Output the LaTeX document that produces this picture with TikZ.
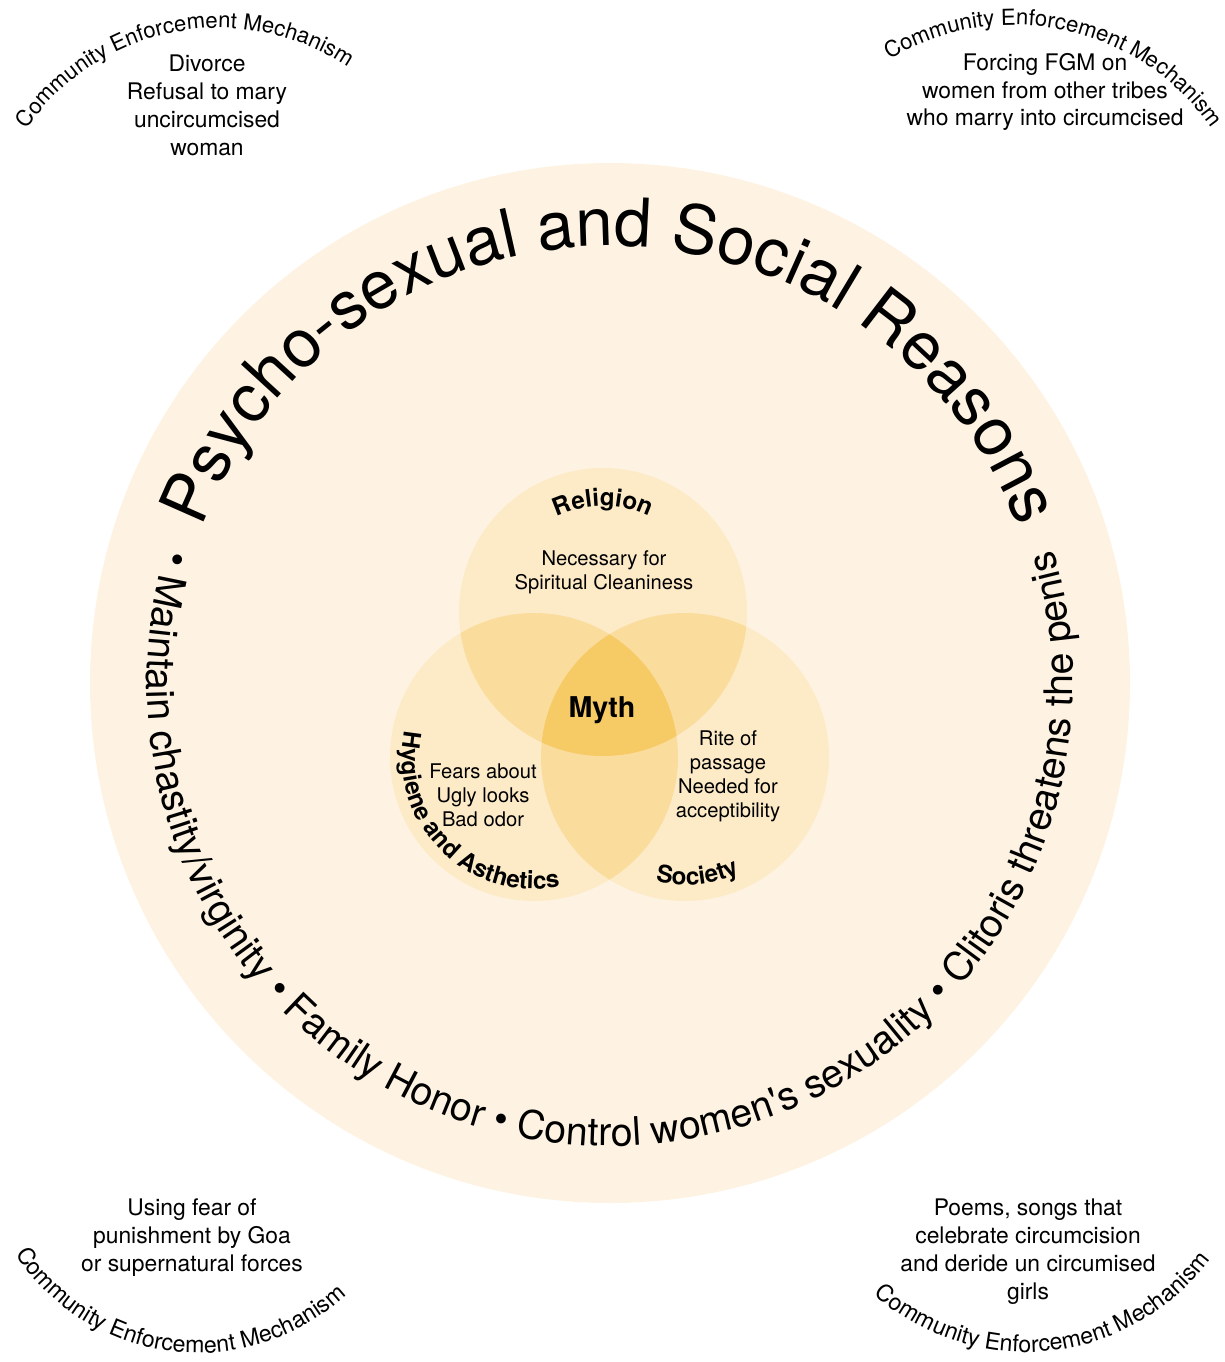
\documentclass[tikz,border=0pt]{standalone}
\usepackage{fontspec}
\setmainfont{TeX Gyre Heros}[Ligatures=TeXOff]
\usetikzlibrary{decorations.text}

\definecolor{creambg}{HTML}{FEF3E2}
\definecolor{vennone}{HTML}{FDEBC8}
\definecolor{venntwo}{HTML}{FADC9C}
\definecolor{vennthree}{HTML}{F6CA64}

\newcommand{\psytitlefont}{\fontsize{38.3}{46}\selectfont}
\newcommand{\psyringfont}{\fontsize{22.4}{26}\selectfont}
\newcommand{\psymechfont}{\fontsize{12.6}{15}\selectfont}
\newcommand{\psymechlowfont}{\fontsize{13.2}{15}\selectfont}
\newcommand{\psylabelfont}{\bfseries\fontsize{13.8}{16}\selectfont}

\begin{document}
\begin{tikzpicture}[x=0.02cm, y=0.02cm,
    venntext/.style={align=center, inner sep=0pt, font=\fontsize{11.5}{13.6}\selectfont},
    cornertext/.style={align=center, inner sep=0pt, font=\fontsize{13}{15.9}\selectfont},
    arctext/.style={decorate, decoration={text along path, text align=center, text={#1}}}]
    \useasboundingbox (0,0) rectangle (1224,-1362);
    % Centres:
    \coordinate (bigc) at (610,-683);
    \coordinate (rel) at (603,-612);
    \coordinate (hyg) at (534,-757);
    \coordinate (soc) at (685,-757);

    % Outer ring and the three circles:
    \fill[creambg] (bigc) circle[radius=520];
    \fill[vennone] (rel) circle[radius=144];
    \fill[vennone] (hyg) circle[radius=144];
    \fill[vennone] (soc) circle[radius=144];
    \begin{scope}
        \clip (rel) circle[radius=144];
        \fill[venntwo] (hyg) circle[radius=144];
        \fill[venntwo] (soc) circle[radius=144];
    \end{scope}
    \begin{scope}
        \clip (hyg) circle[radius=144];
        \fill[venntwo] (soc) circle[radius=144];
    \end{scope}
    \begin{scope}
        \clip (rel) circle[radius=144];
        \clip (hyg) circle[radius=144];
        \fill[vennthree] (soc) circle[radius=144];
    \end{scope}

    % Ring texts:
    \path[arctext={|\psytitlefont|Psycho-sexual and Social Reasons}]
        (bigc) ++(180:437) arc[start angle=180, end angle=0, radius=437];
    \path[arctext={|\psyringfont|• Maintain chastity/virginity • Family Honor • Control women's sexuality • Clitoris threatens the penis}]
        (bigc) ++(150:463) arc[start angle=150, end angle=390, radius=463];

    % Circle labels:
    \path[arctext={|\psylabelfont|Religion}]
        (rel) ++(150:106) arc[start angle=150, end angle=30, radius=106];
    \path[arctext={|\psylabelfont|Hygiene and Asthetics}]
        (hyg) ++(150:132) arc[start angle=150, end angle=300, radius=132];
    \path[arctext={|\psylabelfont|Society}]
        (soc) ++(216:128) arc[start angle=216, end angle=336, radius=128];

    \node[venntext] (relnote) at (604,-572) {Necessary for\\Spiritual Cleaniness};
    \node[venntext] (hygnote) at (483,-795) {Fears about\\Ugly looks\\Bad odor};
    \node[venntext] (socnote) at (728,-776) {Rite of\\passage\\Needed for\\acceptibility};
    \node[font=\bfseries\fontsize{16.3}{19}\selectfont, inner sep=0pt] (myth) at (602,-710) {Myth};

    % Corners:
    \path[arctext={|\psymechfont|Community Enforcement Mechanism}]
        (219,-261) ++(171:233) arc[start angle=171, end angle=31, radius=233];
    \path[arctext={|\psymechfont|Community Enforcement Mechanism}]
        (1014,-266) ++(148:241) arc[start angle=148, end angle=8, radius=241];
    \path[arctext={|\psymechlowfont|Community Enforcement Mechanism}]
        (198,-1135) ++(193:218) arc[start angle=193, end angle=333, radius=218];
    \path[arctext={|\psymechlowfont|Community Enforcement Mechanism}]
        (1026,-1123) ++(206:229) arc[start angle=206, end angle=346, radius=229];

    \node[cornertext] (tlnote) at (207,-105) {Divorce\\Refusal to mary\\uncircumcised\\woman};
    \node[cornertext] (trnote) at (1045,-92) {Forcing FGM on\\women from other tribes\\who marry into circumcised};
    \node[cornertext] (blnote) at (192,-1238) {Using fear of\\punishment by Goa\\or supernatural forces};
    \node[cornertext] (brnote) at (1028,-1252) {Poems, songs that\\celebrate circumcision\\and deride un circumised\\girls};
\end{tikzpicture}
\end{document}
